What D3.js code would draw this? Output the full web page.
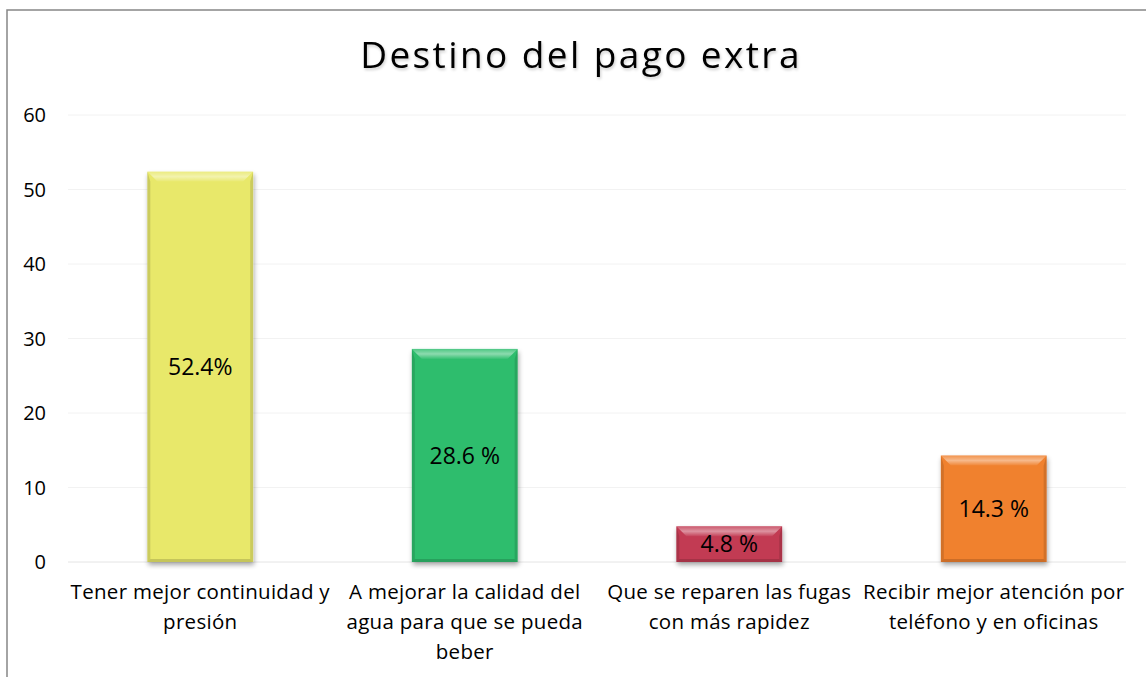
<!DOCTYPE html>
<html>
<head>
<meta charset="utf-8">
<script src="https://cdn.jsdelivr.net/npm/d3@7"></script>
<style>
  body { margin: 0; background: #fff; }
  text { font-family: "Open Sans", "Noto Sans", sans-serif; }
</style>
</head>
<body>
<svg id="chart"></svg>
<script>
// Chart data
var categories = [
  "Tener mejor continuidad y presión",
  "A mejorar la calidad del agua para que se pueda beber",
  "Que se reparen las fugas con más rapidez",
  "Recibir mejor atención por teléfono y en oficinas"
];
// how the category labels break into lines on the axis
var categoryLines = [
  ["Tener mejor continuidad y", "presión"],
  ["A mejorar la calidad del", "agua para que se pueda", "beber"],
  ["Que se reparen las fugas", "con más rapidez"],
  ["Recibir mejor atención por", "teléfono y en oficinas"]
];
var values = [52.4, 28.6, 4.8, 14.3];
var valueLabels = ["52.4%", "28.6 %", "4.8 %", "14.3 %"];
var barColours = ["#e8e86a", "#2ebd6d", "#c23a52", "#f0812e"];
var yTicks = [0, 10, 20, 30, 40, 50, 60];

var width = 1146,
  height = 677,
  margin = { top: 115, right: 20, bottom: 115, left: 68 };

var svg = d3.select("#chart").attr("width", width).attr("height", height);

var defs = svg.append("defs");

// chart frame
svg.append("rect")
  .attr("x", 7).attr("y", 10)
  .attr("width", 1160).attr("height", 700)
  .attr("fill", "#fff")
  .attr("stroke", "#868686")
  .attr("stroke-width", 1.5);

// title shadow filter
var tf = defs.append("filter").attr("id", "tshadow")
  .attr("x", "-10%").attr("y", "-30%").attr("width", "120%").attr("height", "160%");
tf.append("feGaussianBlur").attr("in", "SourceAlpha").attr("stdDeviation", 1.5);
tf.append("feOffset").attr("dx", 1).attr("dy", 2);
tf.append("feComponentTransfer").append("feFuncA").attr("type", "linear").attr("slope", 0.2);
var tm = tf.append("feMerge");
tm.append("feMergeNode");
tm.append("feMergeNode").attr("in", "SourceGraphic");

// title
svg.append("text")
  .attr("x", 581).attr("y", 68)
  .attr("text-anchor", "middle")
  .style("font-size", "37px")
  .style("letter-spacing", "2.4px")
  .attr("fill", "#000")
  .attr("filter", "url(#tshadow)")
  .text("Destino del pago extra");

var x = d3.scaleBand()
  .domain(categories)
  .range([margin.left, 1126])
  .paddingInner(0.6)
  .paddingOuter(0.3);

var y = d3.scaleLinear()
  .domain([0, 60])
  .range([562, 115]);

// gridlines
svg.append("g")
  .selectAll("line")
  .data(yTicks)
  .enter()
  .append("line")
  .attr("x1", margin.left).attr("x2", 1126)
  .attr("y1", function (d) { return y(d); })
  .attr("y2", function (d) { return y(d); })
  .attr("stroke", function (d) { return d === 0 ? "#e4e4e4" : "#f2f2f2"; })
  .attr("stroke-width", 1);

// y axis labels
svg.append("g")
  .selectAll("text")
  .data(yTicks)
  .enter()
  .append("text")
  .attr("x", 46)
  .attr("y", function (d) { return y(d); })
  .attr("dy", "0.35em")
  .attr("text-anchor", "end")
  .style("font-size", "20px")
  .attr("fill", "#000")
  .text(function (d) { return d; });

// bar shadow filter
var filter = defs.append("filter").attr("id", "shadow")
  .attr("x", "-20%").attr("y", "-20%").attr("width", "140%").attr("height", "140%");
filter.append("feGaussianBlur").attr("in", "SourceAlpha").attr("stdDeviation", 2.5);
filter.append("feOffset").attr("dx", 1).attr("dy", 3).attr("result", "blur");
filter.append("feComponentTransfer").append("feFuncA").attr("type", "linear").attr("slope", 0.35);
var merge = filter.append("feMerge");
merge.append("feMergeNode");
merge.append("feMergeNode").attr("in", "SourceGraphic");

// soft highlight along the top bevel
var hl = defs.append("linearGradient").attr("id", "topHl")
  .attr("x1", 0).attr("y1", 0).attr("x2", 0).attr("y2", 1);
hl.append("stop").attr("offset", "0%").attr("stop-color", "#fff").attr("stop-opacity", 0.15);
hl.append("stop").attr("offset", "50%").attr("stop-color", "#fff").attr("stop-opacity", 0.45);
hl.append("stop").attr("offset", "100%").attr("stop-color", "#fff").attr("stop-opacity", 0.05);

var bevel = 10;

var bars = svg.append("g")
  .selectAll(".bar")
  .data(values)
  .enter()
  .append("g")
  .attr("class", "bar");

// base rect
bars.append("rect")
  .attr("x", function (d, i) { return x(categories[i]); })
  .attr("y", function (d) { return y(d); })
  .attr("width", x.bandwidth())
  .attr("height", function (d) { return y(0) - y(d); })
  .attr("fill", function (d, i) { return barColours[i]; })
  .attr("filter", "url(#shadow)");

// top bevel (lighter)
bars.append("path")
  .attr("d", function (d, i) {
    var x0 = x(categories[i]), x1 = x0 + x.bandwidth(), y0 = y(d);
    return "M" + x0 + "," + y0 + "L" + x1 + "," + y0 + "L" + (x1 - bevel) + "," + (y0 + bevel) +
      "L" + (x0 + bevel) + "," + (y0 + bevel) + "Z";
  })
  .attr("fill", "url(#topHl)");

// side bevels (darker)
bars.append("path")
  .attr("d", function (d, i) {
    var x0 = x(categories[i]), x1 = x0 + x.bandwidth(), y0 = y(d), y1 = y(0);
    var b = Math.min(bevel, (y1 - y0) / 2);
    return "M" + x0 + "," + y0 + "L" + (x0 + 3) + "," + (y0 + b) + "L" + (x0 + 3) + "," + (y1 - 3) +
      "L" + x0 + "," + y1 + "Z" +
      "M" + x1 + "," + y0 + "L" + (x1 - 3) + "," + (y0 + b) + "L" + (x1 - 3) + "," + (y1 - 3) +
      "L" + x1 + "," + y1 + "Z";
  })
  .attr("fill", "#000")
  .attr("opacity", 0.12);

// bottom bevel (darker)
bars.append("path")
  .attr("d", function (d, i) {
    var x0 = x(categories[i]), x1 = x0 + x.bandwidth(), y1 = y(0);
    return "M" + x0 + "," + y1 + "L" + x1 + "," + y1 + "L" + (x1 - 3) + "," + (y1 - 3) +
      "L" + (x0 + 3) + "," + (y1 - 3) + "Z";
  })
  .attr("fill", "#000")
  .attr("opacity", 0.15);

// value labels
bars.append("text")
  .attr("x", function (d, i) { return x(categories[i]) + x.bandwidth() / 2; })
  .attr("y", function (d) { return (y(d) + y(0)) / 2; })
  .attr("dy", "0.35em")
  .attr("text-anchor", "middle")
  .style("font-size", "23px")
  .attr("fill", "#000")
  .text(function (d, i) { return valueLabels[i]; });

// category labels, one tspan per line
var catLabels = svg.append("g")
  .selectAll("text")
  .data(categories)
  .enter()
  .append("text")
  .attr("text-anchor", "middle")
  .style("font-size", "20.5px")
  .style("letter-spacing", "0.3px")
  .attr("fill", "#000");

catLabels.selectAll("tspan")
  .data(function (d, i) {
    return categoryLines[i].map(function (l) { return { cat: d, line: l }; });
  })
  .enter()
  .append("tspan")
  .attr("x", function (d) { return x(d.cat) + x.bandwidth() / 2; })
  .attr("y", function (d, j) { return 599 + j * 30; })
  .text(function (d) { return d.line; });
</script>
</body>
</html>
